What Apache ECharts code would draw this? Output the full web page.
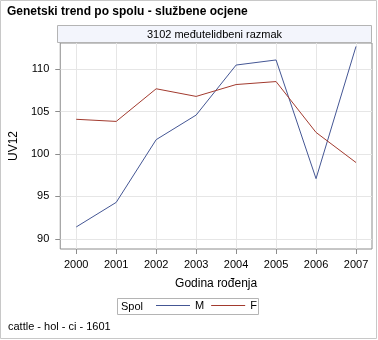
<!DOCTYPE html>
<html><head><meta charset="utf-8">
<script src="https://cdn.jsdelivr.net/npm/echarts@6/dist/echarts.min.js"></script>
<style>html,body{margin:0;padding:0;background:#fff}#c{width:378px;height:340px}</style>
</head><body><div id="c"></div>
<script>
const years = [2000, 2001, 2002, 2003, 2004, 2005, 2006, 2007];
const yTicks = [90, 95, 100, 105, 110];
const seriesM = [91.4, 94.3, 101.7, 104.6, 110.5, 111.1, 97.1, 112.7];
const seriesF = [104.1, 103.85, 107.7, 106.8, 108.2, 108.55, 102.55, 99.0];
const titleText = 'Genetski trend po spolu - službene ocjene';
const panelText = '3102 međutelidbeni razmak';
const footText = 'cattle - hol - ci - 1601';

const FONT = '"Liberation Sans", Arial, sans-serif';
const chart = echarts.init(document.getElementById('c'), null, {renderer: 'canvas'});
chart.setOption({
  animation: false,
  textStyle: {fontFamily: FONT},
  grid: {left: 57, top: 43, width: 315, height: 206, show: true, borderColor: '#8c8c8c', borderWidth: 1, backgroundColor: 'transparent'},
  xAxis: {
    type: 'value', min: 1999.6, max: 2007.4,
    name: 'Godina rođenja', nameLocation: 'middle', nameGap: 29,
    nameTextStyle: {fontSize: 12, color: '#000', fontFamily: FONT},
    axisLine: {show: false},
    axisTick: {show: true, length: 5, customValues: years, lineStyle: {color: '#8c8c8c'}},
    axisLabel: {customValues: years, fontSize: 11, color: '#000', margin: 10, fontFamily: FONT, formatter: v => String(v)},
    splitLine: {show: true, lineStyle: {color: '#e6e6e6'}}
  },
  yAxis: {
    type: 'value', min: 88.8, max: 113.1,
    name: 'UV12', nameLocation: 'middle', nameGap: 33, nameRotate: 90,
    nameTextStyle: {fontSize: 12, color: '#000', fontFamily: FONT},
    axisLine: {show: false},
    axisTick: {show: true, length: 5, customValues: yTicks, lineStyle: {color: '#8c8c8c'}},
    axisLabel: {customValues: yTicks, fontSize: 11, color: '#000', margin: 11, fontFamily: FONT},
    splitLine: {show: true, lineStyle: {color: '#e6e6e6'}}
  },
  legend: {
    left: 156, top: 300, padding: 0, itemWidth: 34, itemHeight: 1, itemGap: 7, icon: 'rect',
    textStyle: {fontSize: 11, color: '#000', fontFamily: FONT},
    data: ['M', 'F']
  },
  series: [
    {name: 'M', type: 'line', symbol: 'none', data: years.map((y, i) => [y, seriesM[i]]), lineStyle: {color: '#445694', width: 1}, itemStyle: {color: '#445694'}},
    {name: 'F', type: 'line', symbol: 'none', data: years.map((y, i) => [y, seriesF[i]]), lineStyle: {color: '#A23A2E', width: 1}, itemStyle: {color: '#A23A2E'}}
  ],
  graphic: [
    {type: 'rect', shape: {x: 0.5, y: 0.5, width: 376, height: 338}, style: {fill: 'none', stroke: '#c8c8c8', lineWidth: 1}, silent: true},
    {type: 'text', left: 7, top: 6, style: {text: titleText, font: 'bold 12px ' + FONT, fill: '#000'}},
    {type: 'rect', shape: {x: 57.5, y: 25.5, width: 314, height: 17}, style: {fill: '#f3f5fc', stroke: '#b4b4b4', lineWidth: 1}, silent: true},
    {type: 'text', x: 214.5, y: 34.5, style: {text: panelText, font: '11px ' + FONT, fill: '#000', align: 'center', verticalAlign: 'middle'}},
    {type: 'rect', shape: {x: 117.5, y: 298.5, width: 141, height: 16}, style: {fill: 'none', stroke: '#b4b4b4', lineWidth: 1}, silent: true},
    {type: 'text', x: 121, y: 307, style: {text: 'Spol', font: '11px ' + FONT, fill: '#000', verticalAlign: 'middle'}},
    {type: 'text', x: 8, y: 327, style: {text: footText, font: '11px ' + FONT, fill: '#000', verticalAlign: 'middle'}}
  ]
});
</script></body></html>
